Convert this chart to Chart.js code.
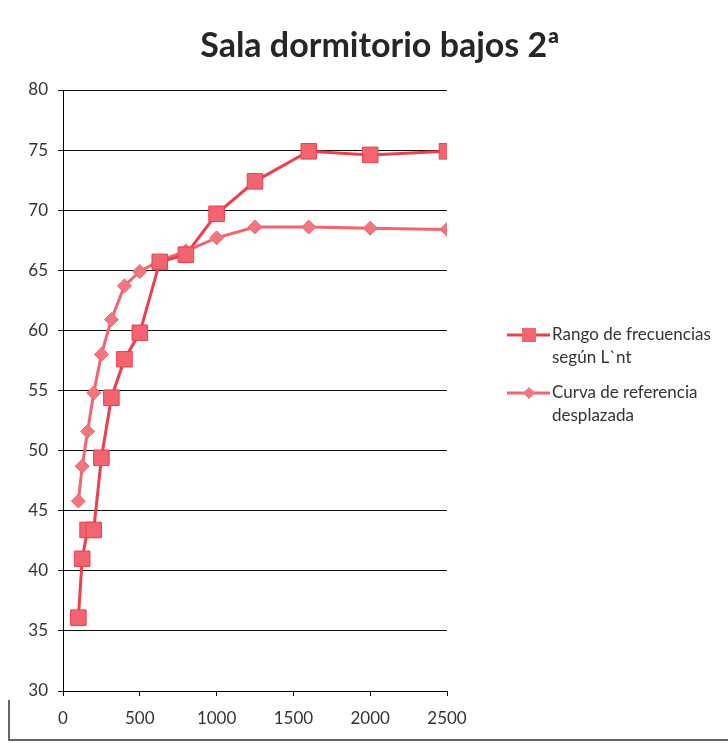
<!DOCTYPE html>
<html>
<head>
<meta charset="utf-8">
<script src="https://cdn.jsdelivr.net/npm/chart.js@4"></script>
<style>
  html, body { margin: 0; padding: 0; background: #fff; }
  #wrap { width: 728px; height: 743px; }
</style>
</head>
<body>
<div id="wrap"><canvas id="myChart" width="728" height="743"></canvas></div>
<script>
// frecuencias (Hz)
var frecuencias = [100, 125, 160, 200, 250, 315, 400, 500, 630, 800, 1000, 1250, 1600, 2000, 2500];
// Rango de frecuencias según L`nt
var rango = [36.1, 41.0, 43.4, 43.4, 49.4, 54.4, 57.6, 59.8, 65.7, 66.3, 69.7, 72.4, 74.9, 74.6, 74.9];
// Curva de referencia desplazada
var curva = [45.8, 48.7, 51.6, 54.8, 58.0, 60.9, 63.7, 64.9, 65.8, 66.6, 67.7, 68.6, 68.6, 68.5, 68.4];

var xTicks = [0, 500, 1000, 1500, 2000, 2500];
var titulo = "Sala dormitorio bajos 2ª";
var leyenda = [["Rango de frecuencias", "según L`nt"], ["Curva de referencia", "desplazada"]];

function pares(ys) {
    var out = [];
    for (var i = 0; i < frecuencias.length; i++) {
        out.push({x: frecuencias[i], y: ys[i]});
    }
    return out;
}

var rojo = "#ee3f4c";
var rojoClaro = "#f26470";
var fuente = "Lato, 'Open Sans', sans-serif";

// titulo, leyenda (linea + marcador) y el borde de la hoja escaneada
var extras = {
    id: "extras",
    afterDraw: function(chart) {
        var c = chart.ctx;
        c.save();
        c.fillStyle = "#262626";
        c.font = "bold 34px " + fuente;
        c.textAlign = "center";
        c.textBaseline = "middle";
        c.fillText(titulo, 380, 46);

        var ys = [335, 393];
        c.font = "17px " + fuente;
        c.textAlign = "left";
        for (var i = 0; i < 2; i++) {
            var ds = chart.data.datasets[i];
            c.strokeStyle = ds.borderColor;
            c.lineWidth = 3;
            c.beginPath();
            c.moveTo(507, ys[i]);
            c.lineTo(550, ys[i]);
            c.stroke();
            c.fillStyle = ds.pointBackgroundColor;
            c.beginPath();
            if (i == 0) {
                c.rect(522, ys[i] - 7, 14, 14);
            } else {
                c.moveTo(529, ys[i] - 6);
                c.lineTo(535, ys[i]);
                c.lineTo(529, ys[i] + 6);
                c.lineTo(523, ys[i]);
                c.closePath();
            }
            c.fill();
            c.fillStyle = "#333";
            c.fillText(leyenda[i][0], 552, ys[i]);
            c.fillText(leyenda[i][1], 552, ys[i] + 23);
        }

        c.strokeStyle = "#666";
        c.lineWidth = 2;
        c.beginPath();
        c.moveTo(9, 700);
        c.lineTo(9, 740);
        c.lineTo(728, 740);
        c.stroke();
        c.restore();
    }
};

var myChart = document.getElementById("myChart");
var chart = new Chart(myChart, {
    type: "scatter",
    data: {
        datasets: [
            {
                label: leyenda[0].join(" "),
                data: pares(rango),
                showLine: true,
                borderColor: rojo,
                borderWidth: 3,
                pointStyle: "rect",
                pointRadius: 11,
                pointBackgroundColor: rojoClaro,
                pointBorderColor: rojo,
                pointBorderWidth: 1
            },
            {
                label: leyenda[1].join(" "),
                data: pares(curva),
                showLine: true,
                borderColor: rojoClaro,
                borderWidth: 3,
                pointStyle: "rectRot",
                pointRadius: 7,
                pointBackgroundColor: "#f27680",
                pointBorderColor: rojoClaro,
                pointBorderWidth: 1
            }
        ]
    },
    options: {
        responsive: false,
        animation: false,
        layout: { padding: { left: 0, right: 281, top: 90, bottom: 0 } },
        plugins: {
            legend: { display: false },
            title: { display: false },
            tooltip: { enabled: false }
        },
        scales: {
            x: {
                type: "linear",
                min: 0,
                max: 2500,
                afterBuildTicks: function(s) { s.ticks = xTicks.map(function(v) { return {value: v}; }); },
                afterFit: function(s) { s.height = 52; },
                grid: { drawOnChartArea: false, drawTicks: true, tickLength: 5, color: "#000" },
                border: { color: "#000", width: 1 },
                ticks: {
                    color: "#333",
                    font: { size: 17, family: fuente },
                    padding: 12,
                    callback: function(v) { return String(v); }
                }
            },
            y: {
                min: 30,
                max: 80,
                ticks: { stepSize: 5, color: "#333", font: { size: 17, family: fuente }, padding: 10 },
                afterFit: function(s) { s.width = 63; },
                grid: { color: "#111", tickLength: 5, drawTicks: true },
                border: { color: "#000", width: 1 }
            }
        }
    },
    plugins: [extras]
});
</script>
</body>
</html>
